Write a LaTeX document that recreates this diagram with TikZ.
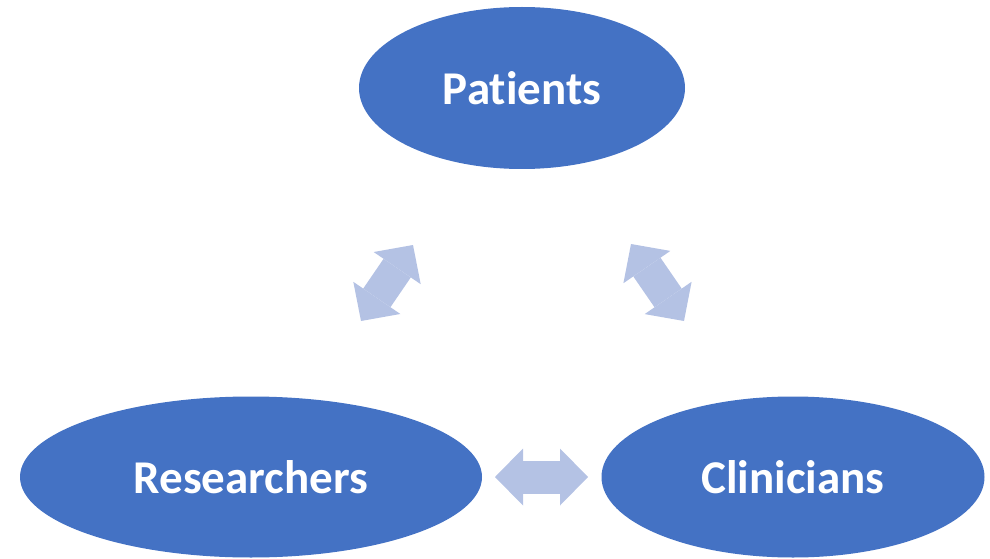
\documentclass[tikz,border=0pt]{standalone}
\usepackage{fontspec}
\setmainfont[Ligatures=NoCommon]{Carlito}
\usepackage{xcolor}
\usepackage{tikz}
\usetikzlibrary{shapes.geometric}
\usetikzlibrary{arrows.meta}
\definecolor{roleblue}{HTML}{4472C4}
\definecolor{linkblue}{HTML}{B4C2E4}
\newcommand{\HeadLength}{28pt}
\newcommand{\HeadWidth}{57pt}
\newcommand{\ShaftWidth}{33pt}
\tikzset{
  role/.style={ellipse,fill=roleblue,text=white,inner sep=0pt,
    font=\fontsize{47}{56}\selectfont\bfseries},
  link/.style={linkblue,line width=\ShaftWidth,
    {Triangle[length=\HeadLength,width=\HeadWidth,line width=0pt]}-{Triangle[length=\HeadLength,width=\HeadWidth,line width=0pt]}}
}

\begin{document}
\begin{tikzpicture}[x=1pt,y=1pt]
\useasboundingbox (0,0) rectangle (990,558);

\node[role,minimum width=326,minimum height=162] (P) at (522,470) {Patients};% top
\node[role,minimum width=462,minimum height=161] (R) at (251,81) {Researchers};% left
\node[role,minimum width=383,minimum height=161] (C) at (793,81) {Clinicians};% right

\coordinate (PR1) at (413,313);
\coordinate (PR2) at (361,237);
\coordinate (PC1) at (631,314);
\coordinate (PC2) at (684,237);
\coordinate (RC1) at (495,81);
\coordinate (RC2) at (588,81);

\draw[link] (PR1) -- (PR2);% Patients - Researchers
\draw[link] (PC1) -- (PC2);% Patients - Clinicians
\draw[link] (RC1) -- (RC2);% Researchers - Clinicians
\end{tikzpicture}
\end{document}
